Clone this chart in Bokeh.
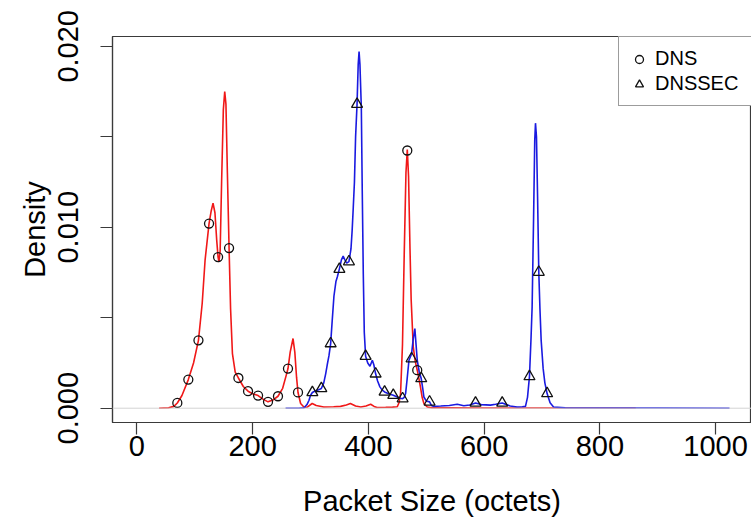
from bokeh.plotting import figure
from bokeh.models import Range1d, FixedTicker, Span, Legend, LegendItem
from bokeh.embed import file_html
from bokeh.resources import INLINE

# ---- data ----
dns_curve_x = [38.5, 55, 64, 70, 78, 89, 98, 106.5, 113, 118, 124.8, 128.5, 131.7, 135, 138, 140.4, 142, 144,
               146.5, 149.5, 151.9, 154, 156.5, 159.4, 162, 165.2, 170, 175.5, 184, 192.2, 200, 209.5, 218,
               226.7, 235, 243.9, 252, 258, 261.2, 265, 269.9, 273, 276, 278.5, 283, 289, 295, 303, 310, 323,
               340, 352, 362, 369, 378, 387, 396, 404, 410, 415, 430, 442, 450, 453, 455.7, 459, 462, 465,
               467.3, 469.5, 472, 474, 477.6, 481, 484.5, 487, 490, 493, 496, 501.8, 510, 540, 600, 700, 862]
dns_curve_y = [0, 0.00002, 0.0001, 0.00029, 0.0007, 0.00158, 0.0025, 0.00375, 0.0058, 0.0082, 0.0102, 0.0109,
               0.01133, 0.0108, 0.0093, 0.00835, 0.00808, 0.0087, 0.0125, 0.0165, 0.0175, 0.0168, 0.0130,
               0.00885, 0.0055, 0.00302, 0.0020, 0.00167, 0.0012, 0.00094, 0.0008, 0.0007, 0.0005, 0.00035,
               0.00045, 0.00066, 0.0011, 0.0018, 0.00219, 0.0031, 0.00385, 0.0031, 0.0017, 0.00087, 0.00026,
               0.00005, 0.00007, 0.00026, 0.00015, 0.00007, 0.00008, 0.0001, 0.00018, 0.00026, 0.00012,
               0.00007, 0.00012, 0.00022, 0.0001, 0.00004, 0.00005, 0.00006, 0.00008, 0.0003, 0.00081, 0.0035,
               0.0085, 0.0130, 0.0143, 0.0128, 0.0088, 0.0060, 0.00339, 0.0026, 0.0021, 0.0017, 0.00118,
               0.0006, 0.00026, 0.00007, 0.00002, 0.00002, 0.00001, 0.00001, 0]

dnssec_curve_x = [257, 280, 289, 294, 297.5, 300, 303.3, 308, 313, 318.8, 323, 326.3, 329, 332, 334.9, 337.5,
                  340.6, 344, 346.4, 350, 353.5, 356.5, 359.5, 362.5, 366.5, 370, 372, 374, 376, 378, 380.5,
                  382.5, 384, 385.5, 387.9, 389.5, 391.3, 393, 395.3, 399, 402.8, 406.9, 409.5, 412.6, 416, 420,
                  424, 428.1, 435, 443.1, 450, 455, 459.2, 462, 464.4, 467, 470.2, 474.7, 477.5, 480.4, 482.5,
                  484.5, 488, 491.4, 494, 496, 500, 505.8, 509, 513.2, 525, 540, 553.6, 565, 575, 585.2, 595,
                  611, 620, 631.3, 645, 657, 666, 671.5, 675, 678.4, 681, 683, 685.5, 687.5, 688.8, 690.5,
                  692.5, 694.5, 696.5, 698.6, 702, 705, 708.9, 714, 720, 740, 800, 900, 1024]
dnssec_curve_y = [0, 0, 0.00002, 0.0002, 0.00044, 0.0007, 0.00087, 0.00095, 0.001, 0.00109, 0.0014, 0.0019,
                  0.0024, 0.0029, 0.00357, 0.0048, 0.0062, 0.0070, 0.00725, 0.0077, 0.0082, 0.0084, 0.0082,
                  0.00802, 0.0081, 0.0088, 0.0098, 0.0111, 0.0125, 0.0150, 0.0168, 0.0190, 0.01971, 0.0190,
                  0.0166, 0.0120, 0.0074, 0.0042, 0.00287, 0.0025, 0.00232, 0.00265, 0.0024, 0.0019, 0.0015,
                  0.00118, 0.001, 0.0009, 0.0008, 0.00072, 0.00062, 0.00055, 0.00053, 0.0006, 0.00081, 0.0016,
                  0.00265, 0.0030, 0.0038, 0.0044, 0.0035, 0.00265, 0.002, 0.00164, 0.0011, 0.00062, 0.0004,
                  0.00035, 0.00015, 0.0001, 0.00012, 0.00015, 0.00022, 0.00014, 0.00018, 0.00029, 0.0002,
                  0.00017, 0.00022, 0.00029, 0.00012, 0.00007, 0.00008, 0.0001, 0.0006, 0.00175, 0.0038,
                  0.0056, 0.0105, 0.0148, 0.01575, 0.0150, 0.0115, 0.00752, 0.0055, 0.00375, 0.0022, 0.0014,
                  0.00081, 0.0003, 0.00007, 0.00002, 0.00001, 0.00001, 0]

dns_pts_x = [70, 89, 106.5, 124.8, 140.4, 159.4, 175.5, 192.2, 209.5, 226.7, 243.9, 261.2, 278.5, 467.3, 484.5]
dns_pts_y = [0.00029, 0.00158, 0.00375, 0.0102, 0.00835, 0.00885, 0.00167, 0.00094, 0.0007, 0.00035,
             0.00066, 0.00219, 0.00087, 0.01424, 0.0021]

dnssec_pts_x = [303.3, 318.8, 334.9, 350, 366.5, 380.5, 395.3, 412.6, 428.1, 443.1, 459.2, 474.7, 491.4,
                505.8, 585.2, 631.3, 678.4, 694.5, 708.9]
dnssec_pts_y = [0.00087, 0.00109, 0.00357, 0.00768, 0.0081, 0.0168, 0.00287, 0.0019, 0.0009, 0.00072,
                0.00053, 0.00274, 0.00164, 0.00035, 0.00029, 0.00029, 0.00175, 0.00752, 0.00081]

x_ticks = [0, 200, 400, 600, 800, 1000]
y_ticks = [0, 0.005, 0.01, 0.015, 0.02]
y_tick_labels = ["0.000", "", "0.010", "", "0.020"]
series_names = ["DNS", "DNSSEC"]

FONT = "Liberation Sans"
AX = "#3a3a3a"

p = figure(width=751, height=520, output_backend="svg", toolbar_location=None,
           x_range=Range1d(-42, 1062), y_range=Range1d(-0.00079, 0.02054),
           min_border_left=112, min_border_right=0, min_border_top=36, min_border_bottom=98,
           background_fill_color="white", border_fill_color="white")
p.xgrid.visible = False
p.ygrid.visible = False
p.outline_line_color = AX
p.outline_line_width = 1.2

for ax in (p.xaxis[0], p.yaxis[0]):
    ax.axis_line_color = AX
    ax.axis_line_width = 1.2
    ax.major_tick_line_color = AX
    ax.major_tick_line_width = 1.2
    ax.major_tick_in = 0
    ax.major_tick_out = 12
    ax.minor_tick_out = 0
    ax.minor_tick_in = 0
    ax.major_label_text_font = FONT
    ax.major_label_text_font_size = "29px"
    ax.major_label_text_color = "black"
    ax.axis_label_text_font = FONT
    ax.axis_label_text_font_size = "29px"
    ax.axis_label_text_font_style = "normal"
    ax.axis_label_text_color = "black"

p.xaxis.ticker = FixedTicker(ticks=x_ticks)
p.xaxis.axis_label = "Packet Size (octets)"
p.xaxis.major_label_standoff = 1
p.xaxis.axis_label_standoff = 26

p.yaxis.ticker = FixedTicker(ticks=y_ticks)
p.yaxis.major_label_overrides = {t: l for t, l in zip(y_ticks, y_tick_labels)}
p.yaxis.major_label_orientation = "vertical"
p.yaxis.axis_label = "Density"
p.yaxis.major_label_standoff = 22
p.yaxis.axis_label_standoff = 5

p.add_layout(Span(location=0, dimension="width", line_color="#d4d4d4", line_width=1))

p.line(dns_curve_x, dns_curve_y, line_color="#f01818", line_width=1.6)
p.line(dnssec_curve_x, dnssec_curve_y, line_color="#1a1ae0", line_width=1.6)

r_dns = p.scatter(dns_pts_x, dns_pts_y, marker="circle", size=9, fill_alpha=0,
                  line_color="#111111", line_width=1.3)
r_sec = p.scatter(dnssec_pts_x, dnssec_pts_y, marker="triangle", size=11, fill_alpha=0,
                  line_color="#111111", line_width=1.3)

legend = Legend(items=[LegendItem(label=series_names[0], renderers=[r_dns]),
                       LegendItem(label=series_names[1], renderers=[r_sec])],
                location=(506, 316), margin=0, padding=10, spacing=2,
                glyph_width=20, glyph_height=22, label_height=22, label_width=110,
                label_standoff=6, label_text_font=FONT, label_text_font_size="20px",
                label_text_color="black", border_line_color=AX, border_line_width=1.2,
                background_fill_color="white", background_fill_alpha=1)
p.add_layout(legend)

open("out.html", "w").write(file_html(p, INLINE))
